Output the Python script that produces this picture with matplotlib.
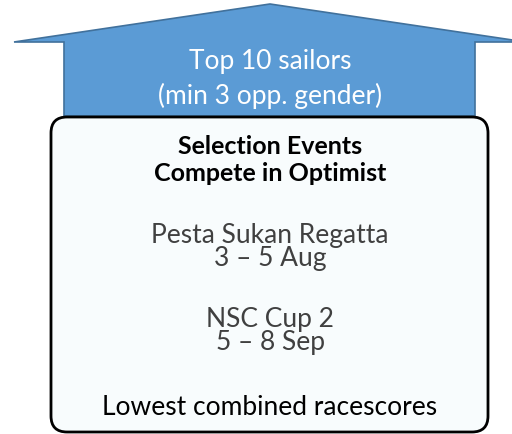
import matplotlib.pyplot as plt
from matplotlib.patches import Polygon, FancyBboxPatch

plt.rcParams['font.family'] = ['Lato', 'DejaVu Sans']

arrow_lines = ["Top 10 sailors", "(min 3 opp. gender)"]
header_lines = ["Selection Events", "Compete in Optimist"]
event_lines = ["Pesta Sukan Regatta", "3 \u2013 5 Aug", "NSC Cup 2", "5 \u2013 8 Sep"]
footer = "Lowest combined racescores"

fig = plt.figure(figsize=(5.12, 4.35), dpi=100)
ax = fig.add_axes([0, 0, 1, 1])
ax.set_xlim(0, 512)
ax.set_ylim(435, 0)
ax.axis('off')

# up arrow
arrow = Polygon([(14, 43), (270, 5), (526, 43), (475, 43), (475, 117),
                 (64, 117), (64, 43)], closed=True,
                facecolor='#5B9BD5', edgecolor='#41719C', lw=1.2)
ax.add_patch(arrow)

# rounded box
box = FancyBboxPatch((51, 118), 437, 315, boxstyle="round,pad=0,rounding_size=16",
                     facecolor='#F8FCFD', edgecolor='black', lw=2)
ax.add_patch(box)

cx = 270
for y, s in zip([62, 96], arrow_lines):
    ax.text(cx, y, s, color='white', fontsize=19, ha='center', va='center')
for y, s in zip([147, 174], header_lines):
    ax.text(cx, y, s, color='black', fontsize=18, fontweight='bold', ha='center', va='center')
for y, s in zip([236, 259, 320, 343], event_lines):
    ax.text(cx, y, s, color='#404040', fontsize=19, ha='center', va='center')
ax.text(cx, 408, footer, color='black', fontsize=19, ha='center', va='center')

fig.savefig('out.png', dpi=100)
